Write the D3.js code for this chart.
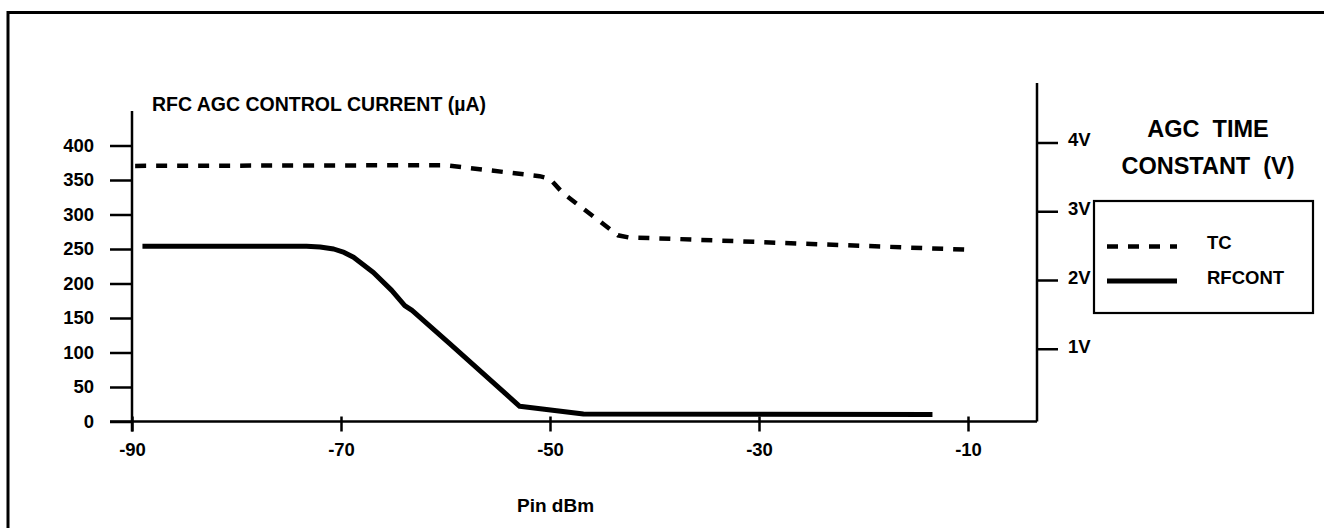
<!DOCTYPE html>
<html>
<head>
<meta charset="utf-8">
<script src="https://cdn.jsdelivr.net/npm/d3@7"></script>
<style>
  body { margin: 0; background: #fff; }
  svg text { font-family: "Liberation Sans", Arial, Helvetica, sans-serif; font-weight: bold; fill: #000; }
</style>
</head>
<body>
<div id="chart"></div>
<script>
// tick values
const pinTicks = [-90, -70, -50, -30, -10];
const currentTicks = [0, 50, 100, 150, 200, 250, 300, 350, 400];
const voltTicks = [1, 2, 3, 4];

// TC (AGC time constant, volts) - dashed, right axis
const tcPin   = [-89.7, -60, -51, -50, -48.8, -47.1, -45.2, -43.5, -42.5, -38.5, -10];
const tcVolts = [3.66, 3.67, 3.51, 3.47, 3.27, 3.07, 2.85, 2.65, 2.62, 2.60, 2.44];

// RFCONT (RFC AGC control current, uA) - solid, left axis
const rfPin     = [-89, -73.3, -72, -70.7, -69.7, -68.8, -66.9, -65.15, -63.9, -63.2, -59.6, -52.9, -46.8, -13.4];
const rfCurrent = [254, 254, 253, 250, 245, 238, 216, 190, 168, 161, 113, 22, 11, 10];

const width = 1324, height = 528;

const svg = d3.select("#chart")
    .append("svg")
    .attr("width", width)
    .attr("height", height);

const x = d3.scaleLinear().domain([-90, -10]).range([132, 968]);
const yCur = d3.scaleLinear().domain([0, 400]).range([421.5, 145.5]);
const yVolt = d3.scaleLinear().domain([0, 4]).range([417.5, 142.5]);

const rightAxisX = 1037;

// outer frame (top + left edges only)
svg.append("path")
    .attr("d", `M8,${height} V12.5 H${width}`)
    .attr("fill", "none")
    .attr("stroke", "#000")
    .attr("stroke-width", 3);

function styleAxis(g) {
    g.attr("font-family", null).attr("font-size", null);
    g.select(".domain").remove();
    g.selectAll(".tick line").attr("stroke", "#000").attr("stroke-width", 2.5);
    g.selectAll(".tick text").style("font-size", "18.5px");
}

// left axis (current)
const gLeft = svg.append("g")
    .attr("transform", `translate(${x(-90)},0)`)
    .call(d3.axisLeft(yCur).tickValues(currentTicks).tickSize(22).tickPadding(16))
    .call(styleAxis);

gLeft.append("line")
    .attr("y1", 111)
    .attr("y2", yCur(0) + 10)
    .attr("stroke", "#000")
    .attr("stroke-width", 2.5);

// x axis - plain hyphen minus like the original
const gX = svg.append("g")
    .attr("transform", `translate(0,${yCur(0)})`)
    .call(d3.axisBottom(x).tickValues(pinTicks).tickFormat(d => String(d)).tickSize(10))
    .call(styleAxis);

gX.selectAll(".tick line").attr("y1", -5);
gX.selectAll(".tick text").attr("y", 34.5).attr("dy", 0);

gX.append("line")
    .attr("x1", 110)
    .attr("x2", rightAxisX)
    .attr("stroke", "#000")
    .attr("stroke-width", 2.5);

// right axis (volts)
const gRight = svg.append("g")
    .attr("transform", `translate(${rightAxisX},0)`)
    .call(d3.axisRight(yVolt).tickValues(voltTicks).tickFormat(d => d + "V").tickSize(21).tickPadding(10))
    .call(styleAxis);

gRight.selectAll(".tick text").attr("dy", "0.18em");

gRight.append("line")
    .attr("y1", 83)
    .attr("y2", yCur(0))
    .attr("stroke", "#000")
    .attr("stroke-width", 2.5);

// series
const tcLine = d3.line()
    .x(d => x(d[0]))
    .y(d => yVolt(d[1]));

const rfLine = d3.line()
    .x(d => x(d[0]))
    .y(d => yCur(d[1]));

svg.append("path")
    .datum(d3.zip(tcPin, tcVolts))
    .attr("d", tcLine)
    .attr("fill", "none")
    .attr("stroke", "#000")
    .attr("stroke-width", 4.5)
    .attr("stroke-dasharray", "11,10");

svg.append("path")
    .datum(d3.zip(rfPin, rfCurrent))
    .attr("d", rfLine)
    .attr("fill", "none")
    .attr("stroke", "#000")
    .attr("stroke-width", 5)
    .attr("stroke-linejoin", "round");

// titles
svg.append("text")
    .attr("x", 152)
    .attr("y", 110.5)
    .style("font-size", "19.5px")
    .text("RFC AGC CONTROL CURRENT (\u00b5A)");

svg.append("text")
    .attr("x", 1208)
    .attr("y", 136.5)
    .attr("text-anchor", "middle")
    .style("font-size", "23.5px")
    .style("white-space", "pre")
    .text("AGC  TIME");

svg.append("text")
    .attr("x", 1208)
    .attr("y", 173.5)
    .attr("text-anchor", "middle")
    .style("font-size", "23.5px")
    .style("white-space", "pre")
    .text("CONSTANT  (V)");

svg.append("text")
    .attr("x", 555.5)
    .attr("y", 511.5)
    .attr("text-anchor", "middle")
    .style("font-size", "19px")
    .text("Pin dBm");

// legend
const legend = svg.append("g").attr("transform", "translate(1094,201)");

legend.append("rect")
    .attr("width", 219)
    .attr("height", 112)
    .attr("fill", "none")
    .attr("stroke", "#000")
    .attr("stroke-width", 2.2);

const legendItems = [
    { name: "TC", dash: "11,10", width: 4.5, y: 45.5 },
    { name: "RFCONT", dash: null, width: 5, y: 80 }
];

legend.selectAll(".legend-line")
    .data(legendItems)
    .enter()
    .append("line")
    .attr("class", "legend-line")
    .attr("x1", 13)
    .attr("x2", 83)
    .attr("y1", d => d.y)
    .attr("y2", d => d.y)
    .attr("stroke", "#000")
    .attr("stroke-width", d => d.width)
    .attr("stroke-dasharray", d => d.dash);

legend.selectAll(".legend-label")
    .data(legendItems)
    .enter()
    .append("text")
    .attr("class", "legend-label")
    .attr("x", 113)
    .attr("y", d => d.y + 2.5)
    .style("font-size", "18.5px")
    .text(d => d.name);
</script>
</body>
</html>
